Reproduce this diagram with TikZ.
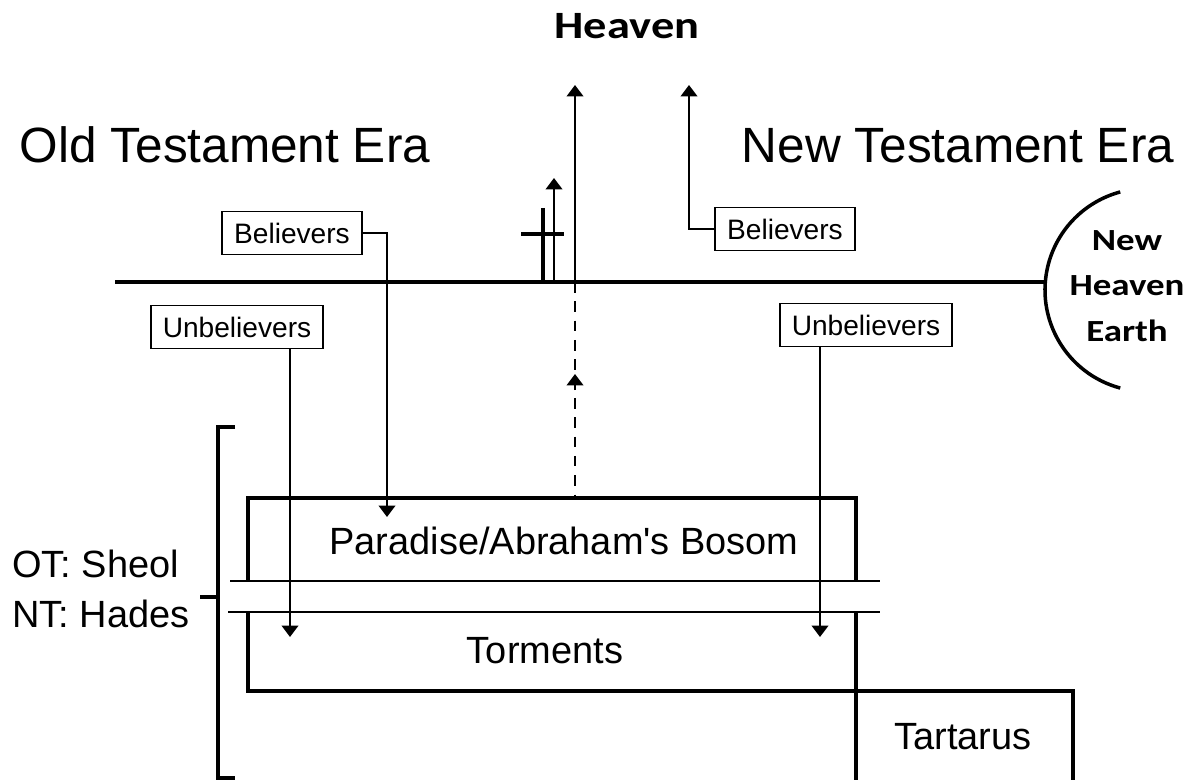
\documentclass[tikz,border=0pt]{standalone}
\usepackage{fontspec}
\setmainfont{Liberation Sans}[Ligatures=TeXOff]
\newfontfamily\calfont[FakeStretch=1.2]{Carlito}
\usepackage{tikz}
\usetikzlibrary{arrows.meta}

\begin{document}
\begin{tikzpicture}[x=0.02cm, y=-0.02cm,
  heavy/.style={line width=1.8pt},
  fine/.style={line width=1pt},
  arr/.style={line width=1pt, -{Triangle[width=9.5pt,length=6.5pt]}},
  lblbox/.style={draw, line width=0.9pt, inner xsep=0.24cm, inner ysep=0pt,
    minimum height=0.86cm, font=\fontsize{16}{18}\selectfont},
  big/.style={inner sep=0pt, font=\fontsize{21.6}{24}\selectfont}]

\useasboundingbox (0,0) rectangle (1193,780);

\draw (627,26) node[font=\calfont\bfseries\fontsize{22}{26}\selectfont] (heaven) {Heaven};
\draw (225,163) node[anchor=base, inner sep=0pt, font=\fontsize{28.2}{32}\selectfont] (oldera) {Old Testament Era};
\draw (958,163) node[anchor=base, inner sep=0pt, font=\fontsize{28.2}{32}\selectfont] (newera) {New Testament Era};
\draw (1127,286) node[align=center, inner sep=0pt,
  font=\calfont\bfseries\fontsize{17.5}{26}\selectfont] (newheaven) {New\\Heaven\\Earth};

\draw (292,233) node[lblbox] (lbel) {Believers};
\draw (237,327) node[lblbox] (lunbel) {Unbelievers};
\draw (785,229) node[lblbox] (rbel) {Believers};
\draw (866,325) node[lblbox] (runbel) {Unbelievers};

\coordinate (lbeltip) at (387,517);
\coordinate (lunbeltip) at (290,637);
\coordinate (rbeltip) at (689,85);
\coordinate (runbeltip) at (820,637);
\coordinate (crosstip) at (554,178);
\coordinate (risetip) at (575,85);
\coordinate (dashtip) at (575,374);

\draw[heavy] (115,282) -- (1045,282);
\draw[line width=2pt] (1146.5,290) ++(105:101.5) arc[start angle=105, end angle=255, radius=101.5];

\draw[line width=1.8pt] (543,208) -- (543,282);
\draw[line width=1.8pt] (521,234) -- (564,234);
\draw[arr] (554,282) -- (crosstip);
\draw[arr] (575,282) -- (risetip);
\draw[fine, dashed, dash pattern=on 6pt off 5pt] (575,282) -- (575,498);
\draw[arr] (575,390) -- (dashtip);

\draw[arr] (lbel.east) -| (lbeltip);
\draw[arr] (lunbel.south -| lunbeltip) -- (lunbeltip);
\draw[arr] (rbel.west) -| (rbeltip);
\draw[arr] (runbel.south -| runbeltip) -- (runbeltip);

\draw[heavy] (248,581) -- (248,498) -- (856,498) -- (856,581);
\draw[fine] (230,581) -- (880,581);
\draw[fine] (228,612) -- (880,612);
\draw[heavy] (248,612) -- (248,691) -- (1073,691) -- (1073,782);
\draw[heavy] (856,612) -- (856,782);

\draw (564,554) node[big, anchor=base] (paradise) {Paradise/Abraham's Bosom};
\draw (545,651) node[big] (torments) {Torments};
\draw (963,737) node[big] (tartarus) {Tartarus};

\draw[heavy] (235,427) -- (218,427) -- (218,778) -- (235,778);
\draw[heavy] (218,597) -- (200,597);
\draw (12,577) node[big, anchor=base west] (sheol) {OT: Sheol};
\draw (12,627) node[big, anchor=base west] (hades) {NT: Hades};

\end{tikzpicture}
\end{document}
